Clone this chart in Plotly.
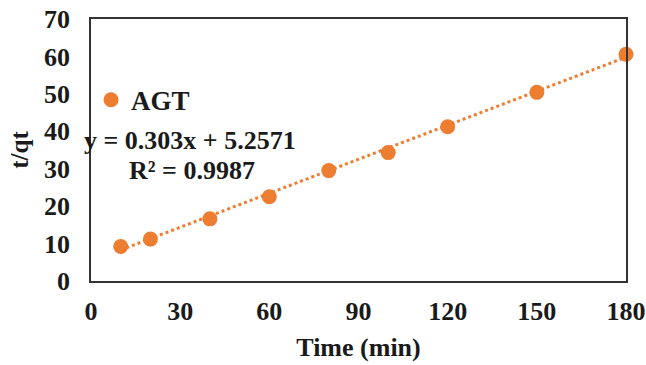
import plotly.graph_objects as go

# Pseudo-second-order kinetics: t/qt versus contact time
time_min = [10, 20, 40, 60, 80, 100, 120, 150, 180]
t_over_qt = [9.2, 11.2, 16.6, 22.5, 29.5, 34.3, 41.2, 50.4, 60.6]

# Linear fit reported for the series
slope = 0.303
intercept = 5.2571
r_squared = 0.9987

orange = "#ED7D31"
ink = "#1a1a1a"
font_family = "Liberation Serif, Times New Roman, serif"

fit_x = [time_min[0], time_min[-1]]
fit_y = [slope * x + intercept for x in fit_x]

fig = go.Figure()
fig.add_trace(go.Scatter(
    x=fit_x, y=fit_y, mode="lines",
    line=dict(color=orange, width=3, dash="dot"),
    showlegend=False, hoverinfo="skip", cliponaxis=False,
))
fig.add_trace(go.Scatter(
    x=time_min, y=t_over_qt, mode="markers", name="<b>AGT</b>",
    marker=dict(color=orange, size=15),
    cliponaxis=False,
))

fig.add_annotation(
    xref="paper", yref="paper", x=-0.017, y=0.535, xanchor="left", yanchor="middle",
    text=f"<b>y = {slope}x + {intercept}</b>", showarrow=False,
    font=dict(family=font_family, size=26, color=ink),
)
fig.add_annotation(
    xref="paper", yref="paper", x=0.068, y=0.423, xanchor="left", yanchor="middle",
    text=f"<b>R² = {r_squared}</b>", showarrow=False,
    font=dict(family=font_family, size=26, color=ink),
)

axis_common = dict(
    showgrid=False, zeroline=False, showline=True, mirror=True,
    linecolor="#333333", linewidth=1.5, ticks="", automargin=False,
    tickfont=dict(family=font_family, size=26, color=ink),
    tickprefix="<b>", ticksuffix="</b>",
)

fig.update_layout(
    width=646, height=365,
    margin=dict(l=91, r=20, t=19, b=84),
    paper_bgcolor="white", plot_bgcolor="white",
    font=dict(family=font_family, color=ink),
    showlegend=True,
    legend=dict(
        x=0.0, y=0.69, xanchor="left", yanchor="middle",
        bgcolor="rgba(0,0,0,0)", itemwidth=30,
        font=dict(family=font_family, size=27, color=ink),
    ),
    xaxis=dict(
        range=[0, 180], dtick=30, tick0=0,
        title=dict(text="<b>Time (min)</b>", font=dict(family=font_family, size=26), standoff=13),
        ticklabelstandoff=6,
        **axis_common,
    ),
    yaxis=dict(
        range=[0, 70], dtick=10, tick0=0,
        title=dict(text="<b>t/qt</b>", font=dict(family=font_family, size=25), standoff=8),
        ticklabelstandoff=14,
        **axis_common,
    ),
)

fig.write_html("out.html")
